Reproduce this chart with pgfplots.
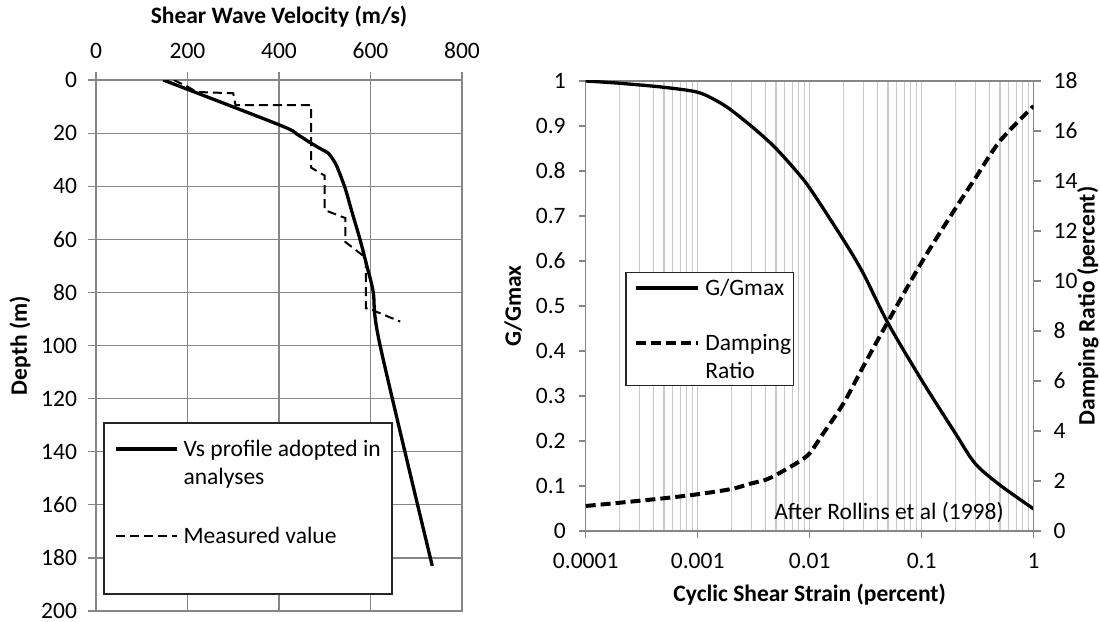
\documentclass[border=0pt]{standalone}
\usepackage{pgfplots}
\pgfplotsset{compat=1.18}
\usepackage{fontspec}
\setmainfont{Carlito}
\definecolor{axgray}{HTML}{868686}
\definecolor{mgray}{HTML}{C8C8C8}

\pgfplotsset{
  excel/.style={
    scale only axis,
    tick align=outside,
    major tick length=3.5bp,
    minor tick length=0pt,
    axis line style={axgray, line width=0.6bp},
    tick style={axgray, line width=0.6bp},
    tick label style={font=\fontsize{11.8}{13}\selectfont},
    label style={font=\bfseries\fontsize{11.8}{13}\selectfont},
    /pgf/number format/assume math mode=true,
  },
  % legend sample on the first text line of a one- or two-line entry
  legend one/.style={legend image code/.code={\draw[##1] (0bp,3.8bp) -- (#1,3.8bp);}},
  legend two/.style={legend image code/.code={\draw[##1] (0bp,17.8bp) -- (#1,17.8bp);}},
}

\begin{document}
\begin{tikzpicture}
\useasboundingbox (0bp,0bp) rectangle (550bp,311bp);

% left: shear wave velocity profile
\begin{axis}[excel,
  at={(48bp,5.5bp)}, anchor=south west,
  width=183bp, height=265.5bp,
  xmin=0, xmax=800, ymin=0, ymax=200, y dir=reverse,
  xtick={0,200,400,600,800}, ytick={0,20,...,200},
  xtick pos=upper, xticklabel pos=upper, ytick pos=left,
  major tick length=4bp,
  grid=major, major grid style={axgray, line width=0.6bp},
  xticklabel style={yshift=3bp},
  yticklabel style={xshift=-2bp},
  xlabel={Shear Wave Velocity (m/s)},
  ylabel={Depth (m)},
  xlabel style={at={(axis description cs:0.5,1.1186)}, anchor=center},
  ylabel style={at={(axis description cs:-0.2077,0.5)}, anchor=center},
  legend one=30.5bp,
  legend style={at={(axis description cs:0.049,0.3296)}, anchor=north west,
    draw=none, fill=none, inner sep=0pt, row sep=15.8bp, column sep=0.5bp,
    cells={anchor=base west, align=left, inner sep=0pt},
    font=\fontsize{11.8}{14}\selectfont},
]
\addplot[black, line width=1.65bp, smooth, legend two=30.5bp] table {
x y
147 0
402 17
440 20.5
471 23.9
495 26.3
508 27.6
522 31
530 34
545 41
560 50
577 60
592 70
606 80
621 100
735 183
};
\addlegendentry{Vs profile adopted in\\analyses}
\addplot[black, line width=1bp, dash pattern=on 4.5bp off 2.5bp] table {
x y
170 0
200 2.5
220 4.5
300 5
305 9.5
470 9.5
470 33
500 36
500 49
545 52
545 61
590 67
590 86
595 86
665 91
};
\addlegendentry{Measured value}
\draw[black!85, line width=0.6bp, fill=white] (axis cs:17.5,129.2) rectangle (axis cs:647,193.6);
\end{axis}

% right: modulus reduction and damping
\begin{axis}[excel,
  at={(292.85bp,45.5bp)}, anchor=south west,
  width=224bp, height=225bp,
  xmode=log, xmin=1e-4, xmax=1, ymin=0, ymax=1,
  xtick={1e-4,1e-3,1e-2,1e-1,1}, xticklabels={0.0001,0.001,0.01,0.1,1},
  ytick={0,0.1,0.2,0.3,0.4,0.5,0.6,0.7,0.8,0.9,1},
  yticklabel style={/pgf/number format/fixed, /pgf/number format/precision=1, xshift=-3bp},
  xticklabel style={yshift=-4bp},
  xtick pos=left, ytick pos=left,
  xmajorgrids, xminorgrids,
  major grid style={mgray, line width=0.6bp},
  minor grid style={mgray, line width=0.6bp},
  xlabel={Cyclic Shear Strain (percent)},
  ylabel={G/Gmax},
  xlabel style={at={(axis description cs:0.5,-0.142)}, anchor=center},
  ylabel style={at={(axis description cs:-0.162,0.5)}, anchor=center},
]
\addplot[black, line width=1.65bp, smooth] table {
x y
1e-4 1.000
2e-4 0.995
5e-4 0.986
1e-3 0.975
1.5e-3 0.955
2e-3 0.935
3e-3 0.900
4e-3 0.873
5e-3 0.850
7e-3 0.810
1e-2 0.762
2e-2 0.647
3e-2 0.573
5e-2 0.462
1e-1 0.335
2e-1 0.217
3e-1 0.150
5e-1 0.102
1 0.049
};
\end{axis}

\begin{axis}[excel,
  at={(292.85bp,45.5bp)}, anchor=south west,
  width=224bp, height=225bp,
  xmode=log, xmin=1e-4, xmax=1, ymin=0, ymax=18,
  axis x line=none, axis y line*=right,
  ytick={0,2,...,18},
  yticklabel style={xshift=3bp},
  ylabel={Damping Ratio (percent)},
  ylabel style={at={(axis description cs:1.121,0.5)}, anchor=center},
  legend one=31bp,
  legend style={at={(axis description cs:0.108,0.5689)}, anchor=north west,
    draw=none, fill=none, inner sep=0pt, row sep=13.9bp, column sep=0.5bp,
    cells={anchor=base west, align=left, inner sep=0pt},
    font=\fontsize{11.8}{14}\selectfont},
]
\addlegendimage{black, line width=1.65bp}
\addlegendentry{G/Gmax}
\addplot[black, line width=2bp, dash pattern=on 5bp off 2.5bp, smooth, legend two=31bp] table {
x y
1e-4 1.0
2e-4 1.13
5e-4 1.31
1e-3 1.47
2e-3 1.68
3e-3 1.9
4e-3 2.04
5e-3 2.24
6e-3 2.44
8e-3 2.77
1e-2 3.11
1.32e-2 3.9
2e-2 5.1
3e-2 6.57
4.54e-2 8.04
1e-1 10.75
2e-1 12.9
3e-1 14.1
5e-1 15.6
1 17.0
};
\addlegendentry{Damping\\Ratio}
\draw[black!85, line width=0.6bp, fill=white] (axis cs:2.29e-4,10.33) rectangle (axis cs:0.00714,5.83);
\node[anchor=east, inner sep=0pt, font=\fontsize{11.8}{13}\selectfont] at (rel axis cs:0.934,0.04) {After Rollins et al (1998)};
\end{axis}
\end{tikzpicture}
\end{document}
